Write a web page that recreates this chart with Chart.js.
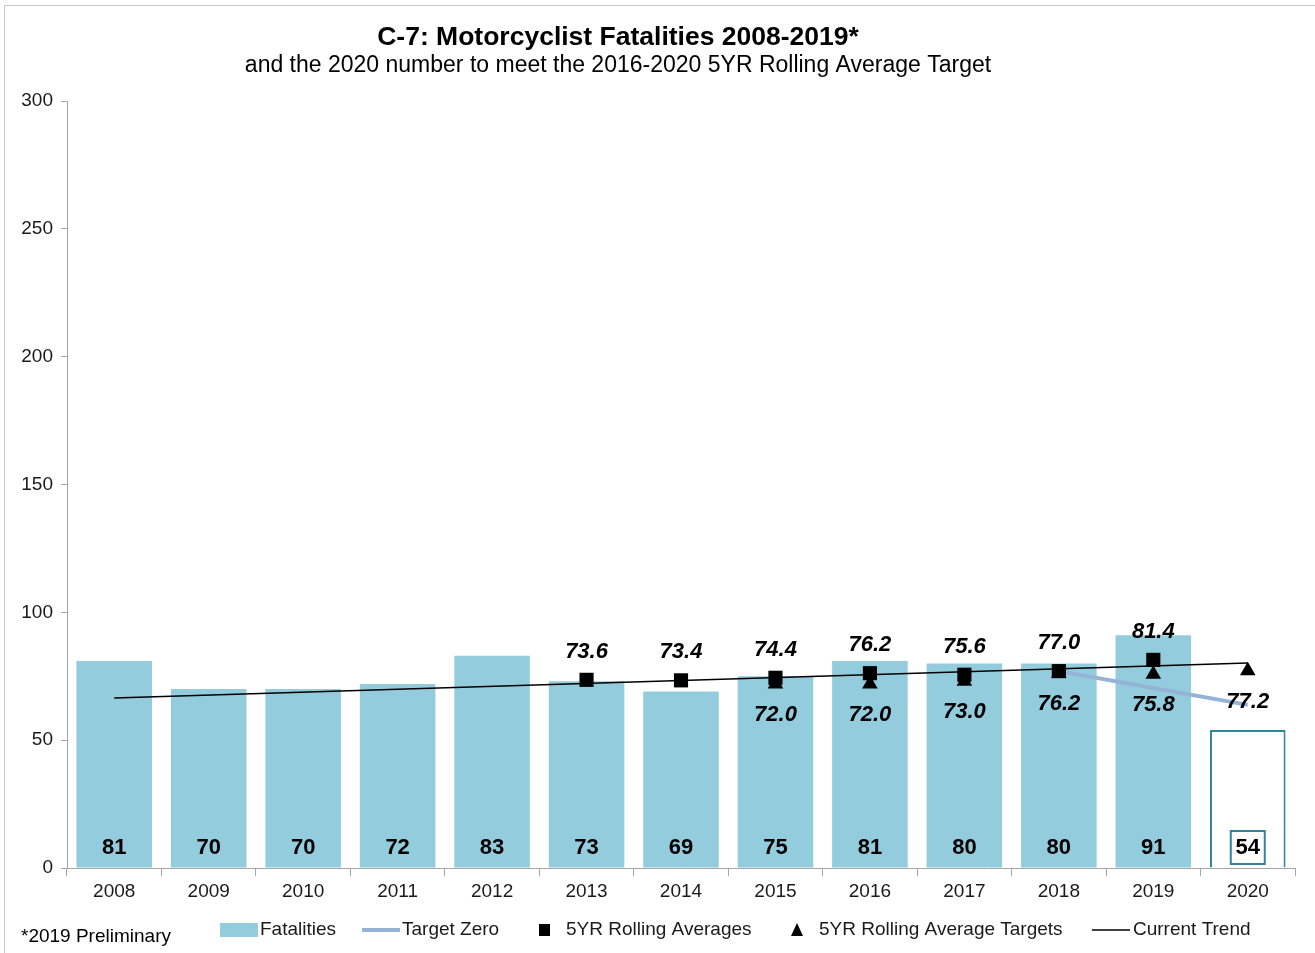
<!DOCTYPE html>
<html>
<head>
<meta charset="utf-8">
<script src="https://cdn.jsdelivr.net/npm/chart.js@4.4.1/dist/chart.umd.min.js"></script>
<style>
  html, body { margin: 0; padding: 0; background: #fff; }
  #wrap { position: relative; width: 1315px; height: 953px; }
</style>
</head>
<body>
<div id="wrap"><canvas id="c" width="1315" height="953"></canvas></div>
<script>
// ---- data ----
const years = ['2008','2009','2010','2011','2012','2013','2014','2015','2016','2017','2018','2019','2020'];
const fatalities = [81, 70, 70, 72, 83, 73, 69, 75, 81, 80, 80, 91, 54];
const targetZero = [null, null, null, null, null, null, null, null, null, null, 77.0, 70.4, 63.8];
const rollingAverages = [null, null, null, null, null, 73.6, 73.4, 74.4, 76.2, 75.6, 77.0, 81.4, null];
const rollingAverageTargets = [null, null, null, null, null, null, null, 72.0, 72.0, 73.0, 76.2, 75.8, 77.2];
const currentTrend = [66.5, null, null, null, null, null, null, null, null, null, null, null, 80.2];
const yTicks = [0, 50, 100, 150, 200, 250, 300];

const titleText = 'C-7: Motorcyclist Fatalities 2008-2019*';
const subtitleText = 'and the 2020 number to meet the 2016-2020 5YR Rolling Average Target';
const footnoteText = '*2019 Preliminary';
const legendLabels = ['Fatalities', 'Target Zero', '5YR Rolling Averages', '5YR Rolling Average Targets', 'Current Trend'];

const FONT = '"Liberation Sans", Arial, Helvetica, sans-serif';
const BAR = '#93CDDD';
const TEAL = '#31859C';
const TZ = '#95B3D7';

const labelsPlugin = {
  id: 'labelsPlugin',
  beforeDraw(chart) {
    const ctx = chart.ctx;
    ctx.save();
    ctx.fillStyle = '#fff';
    ctx.fillRect(0, 0, chart.width, chart.height);
    ctx.strokeStyle = '#C8C8C8';
    ctx.lineWidth = 1;
    ctx.strokeRect(4.5, 5.5, chart.width + 10, chart.height + 10);
    ctx.restore();
  },
  afterDatasetsDraw(chart) {
    const ctx = chart.ctx;
    const yS = chart.scales.y;
    ctx.save();
    ctx.fillStyle = '#000';
    ctx.textAlign = 'center';
    ctx.textBaseline = 'middle';
    ctx.font = 'bold 22px ' + FONT;
    const barMeta = chart.getDatasetMeta(0);
    barMeta.data.forEach((el, i) => {
      const y = yS.getPixelForValue(0) - 20;
      ctx.fillText(String(fatalities[i]), el.x, y);
      if (i === fatalities.length - 1) {
        ctx.strokeStyle = TEAL;
        ctx.lineWidth = 2;
        ctx.strokeRect(el.x - 17, y - 17, 34, 33);
      }
    });
    ctx.font = 'italic bold 22px ' + FONT;
    const sqMeta = chart.getDatasetMeta(2);
    sqMeta.data.forEach((el, i) => {
      if (rollingAverages[i] == null) return;
      ctx.fillText(rollingAverages[i].toFixed(1), el.x, el.y - 28);
    });
    const trMeta = chart.getDatasetMeta(3);
    trMeta.data.forEach((el, i) => {
      if (rollingAverageTargets[i] == null) return;
      ctx.fillText(rollingAverageTargets[i].toFixed(1), el.x, el.y + 31);
    });
    ctx.restore();
  },
  afterDraw(chart) {
    const ctx = chart.ctx;
    ctx.save();
    ctx.fillStyle = '#000';
    ctx.textBaseline = 'middle';
    ctx.textAlign = 'center';
    ctx.font = 'bold 26.5px ' + FONT;
    ctx.fillText(titleText, 618, 38);
    ctx.font = '23px ' + FONT;
    ctx.fillText(subtitleText, 618, 66);
    ctx.textAlign = 'left';
    ctx.font = '19px ' + FONT;
    ctx.fillText(footnoteText, 21, 937);
    const ly = 930;
    ctx.fillStyle = BAR;
    ctx.fillRect(220, ly - 7, 38, 14);
    ctx.strokeStyle = TZ; ctx.lineWidth = 4;
    ctx.beginPath(); ctx.moveTo(362, ly); ctx.lineTo(400, ly); ctx.stroke();
    ctx.fillStyle = '#000';
    ctx.fillRect(539, ly - 6, 11, 12);
    ctx.beginPath();
    ctx.moveTo(797, ly - 7); ctx.lineTo(803, ly + 6); ctx.lineTo(791, ly + 6); ctx.closePath(); ctx.fill();
    ctx.strokeStyle = '#000'; ctx.lineWidth = 1.5;
    ctx.beginPath(); ctx.moveTo(1092, ly); ctx.lineTo(1130, ly); ctx.stroke();
    ctx.fillStyle = '#1a1a1a';
    ctx.font = '19px ' + FONT;
    ctx.fillText(legendLabels[0], 260, ly);
    ctx.fillText(legendLabels[1], 402, ly);
    ctx.fillText(legendLabels[2], 566, ly);
    ctx.fillText(legendLabels[3], 819, ly);
    ctx.fillText(legendLabels[4], 1133, ly);
    ctx.restore();
  }
};

const n = years.length;
new Chart(document.getElementById('c'), {
  data: {
    labels: years,
    datasets: [
      {
        type: 'bar', label: 'Fatalities', data: fatalities, order: 5,
        backgroundColor: fatalities.map((v, i) => i === n - 1 ? '#FFFFFF' : BAR),
        borderColor: fatalities.map((v, i) => i === n - 1 ? TEAL : BAR),
        borderWidth: fatalities.map((v, i) => i === n - 1 ? 2 : 0),
        barPercentage: 0.8, categoryPercentage: 1.0
      },
      {
        type: 'line', label: 'Target Zero', data: targetZero, order: 4,
        borderColor: TZ, borderWidth: 4, pointRadius: 0, fill: false, tension: 0
      },
      {
        type: 'line', label: '5YR Rolling Averages', data: rollingAverages, order: 2,
        showLine: false, pointStyle: 'rect', pointRadius: 10, pointBackgroundColor: '#000', pointBorderColor: '#000', pointBorderWidth: 0
      },
      {
        type: 'line', label: '5YR Rolling Average Targets', data: rollingAverageTargets, order: 3,
        showLine: false, pointStyle: 'triangle', pointRadius: 9, pointBackgroundColor: '#000', pointBorderColor: '#000', pointBorderWidth: 0
      },
      {
        type: 'line', label: 'Current Trend', data: currentTrend, order: 1, spanGaps: true,
        borderColor: '#000', borderWidth: 1.5, pointRadius: 0, fill: false, tension: 0
      }
    ]
  },
  options: {
    responsive: false,
    animation: false,
    events: [],
    layout: { padding: { left: 9, right: 20, top: 101, bottom: 45 } },
    plugins: { legend: { display: false }, title: { display: false }, tooltip: { enabled: false } },
    scales: {
      x: {
        offset: true,
        grid: { display: true, offset: true, drawOnChartArea: false, drawTicks: true, tickLength: 8, color: '#A6A6A6' },
        border: { display: true, color: '#A6A6A6', width: 1 },
        ticks: { color: '#1a1a1a', font: { family: FONT, size: 19 }, padding: 4, maxRotation: 0, autoSkip: false },
        afterFit(s) { s.height = 40; }
      },
      y: {
        min: 0, max: 300,
        afterBuildTicks(s) { s.ticks = yTicks.map(v => ({ value: v })); },
        grid: { display: true, drawOnChartArea: false, drawTicks: true, tickLength: 6, color: '#A6A6A6' },
        border: { display: true, color: '#A6A6A6', width: 1 },
        ticks: { color: '#1a1a1a', font: { family: FONT, size: 19 }, padding: 8 },
        afterFit(s) { s.width = 58; }
      }
    }
  },
  plugins: [labelsPlugin]
});
</script>
</body>
</html>
